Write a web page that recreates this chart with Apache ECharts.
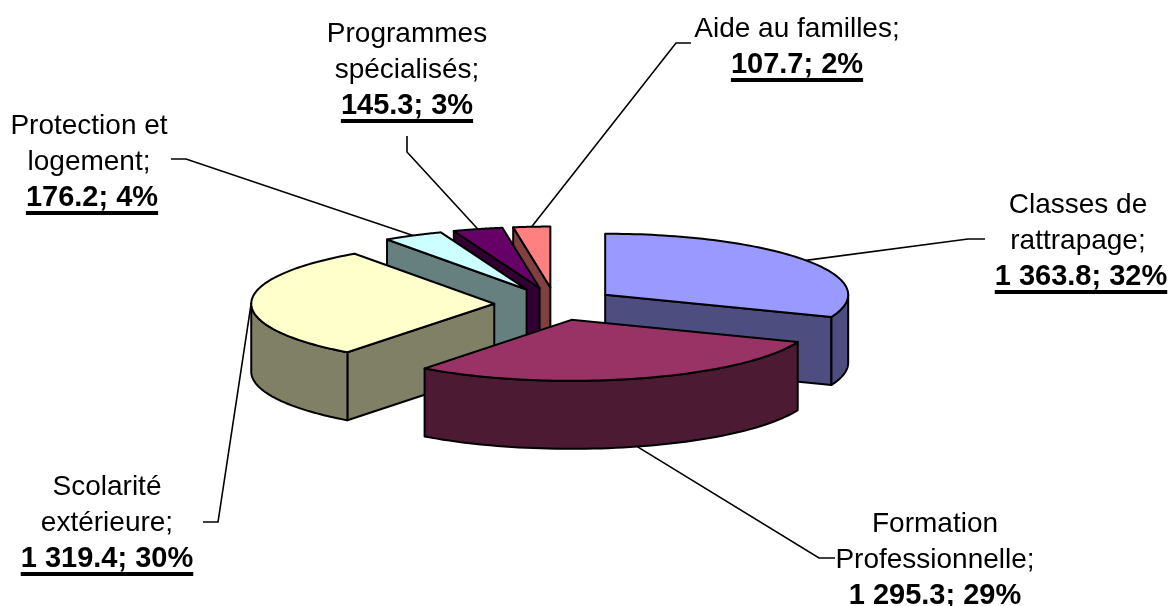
<!DOCTYPE html>
<html>
<head>
<meta charset="utf-8">
<style>html,body{margin:0;padding:0;background:#fff}#main{width:1169px;height:606px}</style>
<script src="https://cdn.jsdelivr.net/npm/echarts@6/dist/echarts.min.js"></script>
</head>
<body>
<div id="main"></div>
<script>
var categories = ['Classes de\nrattrapage;', 'Formation\nProfessionnelle;', 'Scolarité\nextérieure;', 'Protection et\nlogement;', 'Programmes\nspécialisés;', 'Aide au familles;'];
var values = [1363.8, 1295.3, 1319.4, 176.2, 145.3, 107.7];
var valueLabels = ['1 363.8', '1 295.3', '1 319.4', '176.2', '145.3', '107.7'];
var percentLabels = ['32%', '29%', '30%', '4%', '3%', '2%'];
var topColors = ['#9999ff', '#993366', '#ffffcc', '#ccffff', '#660066', '#ff8080'];
var wallColors = ['#4d4d80', '#4d1a33', '#808066', '#668080', '#330033', '#804040'];

// pie projection
var cx = 555, cy = 304, rx = 243, ry = 61, depth = 68, explodeX = 0.25, explodeY = 0.27;

// label centre x, y of first line centre, bold line shift, then the leader's points outside the slice
var labelLayout = [
    { x: 1078, y: 205, boldDx: 3, leader: [[985, 239], [968, 239]] },
    { x: 935, y: 524, boldDx: 0, leader: [[835, 558], [819, 558]] },
    { x: 107, y: 487, boldDx: 0, leader: [[203, 522], [218, 522]] },
    { x: 89, y: 126, boldDx: 3, leader: [[171, 159], [186, 159]] },
    { x: 407, y: 34, boldDx: 0, leader: [[407, 136], [407, 152]] },
    { x: 797, y: 29, boldDx: 0, leader: [[691, 43], [676, 43]] }
];
var lineHeight = 36, fontSize = 28, boldSize = 29;
var fontFamily = '"Liberation Sans", Arial, sans-serif';

var total = 0;
for (var i = 0; i < values.length; i++) total += values[i];
var startAngles = [], run = 0;
for (var i = 0; i < values.length; i++) {
    startAngles.push(run);
    run += values[i] / total * 2 * Math.PI;
}

// angle is clockwise from 12 o'clock
function rim(ax, ay, a) {
    return [ax + rx * Math.sin(a), ay - ry * Math.cos(a)];
}
function down(p) {
    return [p[0], p[1] + depth];
}

function renderSlice(params, api) {
    var i = params.dataIndex;
    var a0 = startAngles[i];
    var a1 = a0 + api.value(0) / total * 2 * Math.PI;
    var mid = (a0 + a1) / 2;
    var ax = cx + rx * explodeX * Math.sin(mid);
    var ay = cy - ry * explodeY * Math.cos(mid);
    var apex = [ax, ay];
    // slices further back are painted first
    var z = Math.round(ay * 10);
    var children = [];

    function face(points, color, zz) {
        children.push({
            type: 'polygon',
            z2: zz,
            shape: { points: points },
            style: { fill: color, stroke: '#000', lineWidth: 2, lineJoin: 'round' }
        });
    }

    // flat walls, only when they turn to the viewer
    if (Math.sin(a0) < -1e-6) {
        var s = rim(ax, ay, a0);
        face([apex, s, down(s), down(apex)], wallColors[i], z);
    }
    if (Math.sin(a1) > 1e-6) {
        var e = rim(ax, ay, a1);
        face([apex, e, down(e), down(apex)], wallColors[i], z);
    }

    // outer wall, the part of the arc between 3 and 9 o'clock
    var w0 = Math.max(a0, Math.PI / 2), w1 = Math.min(a1, Math.PI * 1.5);
    if (w1 > w0) {
        var upper = [], lower = [];
        for (var k = 0; k <= 60; k++) {
            var p = rim(ax, ay, w0 + (w1 - w0) * k / 60);
            upper.push(p);
            lower.unshift(down(p));
        }
        face(upper.concat(lower), wallColors[i], z + 1);
    }

    // top
    var topFace = [apex];
    for (var k = 0; k <= 80; k++) {
        topFace.push(rim(ax, ay, a0 + (a1 - a0) * k / 80));
    }
    face(topFace, topColors[i], z + 2);

    // leader runs from the label to the rim at the middle of the slice
    var layout = labelLayout[i];
    var anchor = rim(ax, ay, mid);
    if (Math.cos(mid) < 0) anchor = down(anchor);
    children.push({
        type: 'polyline',
        z2: 5000,
        shape: { points: layout.leader.concat([anchor]) },
        style: { fill: null, stroke: '#000', lineWidth: 1.6 }
    });

    // label lines, the last one bold and underlined
    var names = categories[i].split('\n');
    for (var n = 0; n < names.length; n++) {
        children.push({
            type: 'text',
            z2: 5001,
            style: {
                x: layout.x,
                y: layout.y + n * lineHeight,
                text: names[n],
                align: 'center',
                verticalAlign: 'middle',
                fill: '#000',
                font: fontSize + 'px ' + fontFamily
            }
        });
    }
    var boldText = valueLabels[i] + '; ' + percentLabels[i];
    var boldFont = 'bold ' + boldSize + 'px ' + fontFamily;
    var boldX = layout.x + layout.boldDx;
    var boldY = layout.y + names.length * lineHeight;
    var boldW = echarts.format.getTextRect(boldText, boldFont).width;
    children.push({
        type: 'text',
        z2: 5001,
        style: {
            x: boldX,
            y: boldY,
            text: boldText,
            align: 'center',
            verticalAlign: 'middle',
            fill: '#000',
            font: boldFont
        }
    });
    children.push({
        type: 'line',
        z2: 5001,
        shape: { x1: boldX - boldW / 2, y1: boldY + 15, x2: boldX + boldW / 2, y2: boldY + 15 },
        style: { stroke: '#000', lineWidth: 4 }
    });

    return { type: 'group', children: children };
}

var chart = echarts.init(document.getElementById('main'));
chart.setOption({
    animation: false,
    backgroundColor: '#fff',
    series: [{
        type: 'custom',
        coordinateSystem: 'none',
        renderItem: renderSlice,
        data: values.map(function (v) { return [v]; })
    }]
});
</script>
</body>
</html>
